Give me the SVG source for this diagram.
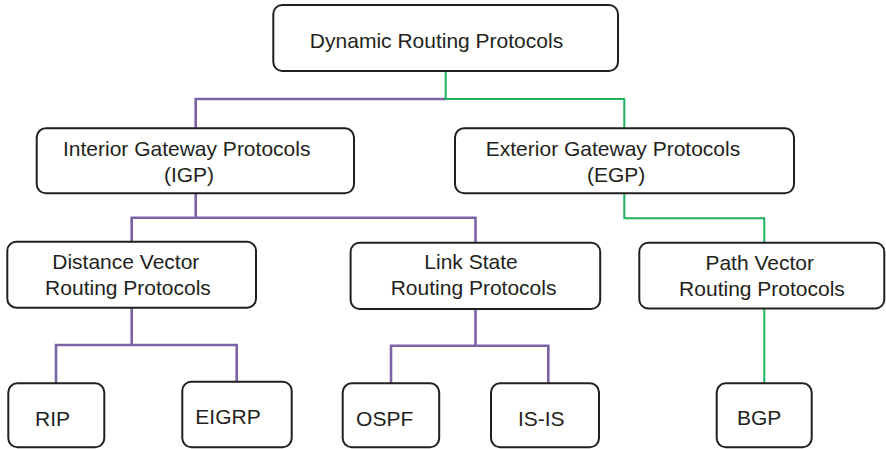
<svg xmlns="http://www.w3.org/2000/svg" width="886" height="449" viewBox="0 0 886 449">
<style>
.box{fill:#fff;stroke:#231f20;stroke-width:2}
.t{font-family:"Liberation Sans",Arial,sans-serif;font-size:21px;fill:#231f20;text-anchor:middle}
.p{fill:none;stroke:#7b64a5;stroke-width:2.6}
.g{fill:none;stroke:#1cb35b;stroke-width:2}
</style>
<rect width="886" height="449" fill="#fff"/>
<g id="connectors">
<path class="p" d="M445.7,99 H195.7 V128.3"/>
<path class="g" d="M445.7,71 V99 H624.3 V128.3"/>
<path class="p" d="M195.7,193.3 V217.7 M131.7,241.7 V217.7 H475.5 V242.7"/>
<path class="g" d="M624.3,193.3 V218.3 H764.3 V242.7"/>
<path class="p" d="M131.7,307.7 V345 M56,383.3 V345 H236.7 V381.7"/>
<path class="p" d="M475.5,309 V345.7 M391,383.3 V345.7 H548.3 V383.3"/>
<path class="g" d="M764.3,308.5 V383.3"/>
</g>
<g id="dynamic">
<rect class="box" x="273.3" y="5" width="344.7" height="66" rx="9"/>
<text class="t" x="436.5" y="48">Dynamic Routing Protocols</text>
</g>
<g id="igp">
<rect class="box" x="36.7" y="128.3" width="317.3" height="65" rx="9"/>
<text class="t" x="186.7" y="155.7">Interior Gateway Protocols</text>
<text class="t" x="189" y="181.7">(IGP)</text>
</g>
<g id="egp">
<rect class="box" x="455" y="128.3" width="339" height="65" rx="9"/>
<text class="t" x="613" y="155.7">Exterior Gateway Protocols</text>
<text class="t" x="616.2" y="181.7">(EGP)</text>
</g>
<g id="distance-vector">
<rect class="box" x="7.3" y="241.7" width="248.7" height="66" rx="9"/>
<text class="t" x="125.8" y="269">Distance Vector</text>
<text class="t" x="128" y="295">Routing Protocols</text>
</g>
<g id="link-state">
<rect class="box" x="350.6" y="242.7" width="249.6" height="66.3" rx="9"/>
<text class="t" x="471" y="269">Link State</text>
<text class="t" x="473.6" y="295">Routing Protocols</text>
</g>
<g id="path-vector">
<rect class="box" x="639.3" y="242.7" width="245" height="65.8" rx="9"/>
<text class="t" x="759.7" y="270">Path Vector</text>
<text class="t" x="762" y="295.7">Routing Protocols</text>
</g>
<g id="rip">
<rect class="box" x="8.3" y="383.3" width="96" height="64" rx="9"/>
<text class="t" x="52.5" y="425.7">RIP</text>
</g>
<g id="eigrp">
<rect class="box" x="182.3" y="381.7" width="109.4" height="65.6" rx="9"/>
<text class="t" x="228" y="424">EIGRP</text>
</g>
<g id="ospf">
<rect class="box" x="342.7" y="383.3" width="96.5" height="64" rx="9"/>
<text class="t" x="384.7" y="425.7">OSPF</text>
</g>
<g id="isis">
<rect class="box" x="491" y="383.3" width="108" height="64" rx="9"/>
<text class="t" x="541.3" y="425.7">IS-IS</text>
</g>
<g id="bgp">
<rect class="box" x="716.7" y="383.3" width="95" height="64" rx="9"/>
<text class="t" x="759.2" y="425">BGP</text>
</g>
</svg>
